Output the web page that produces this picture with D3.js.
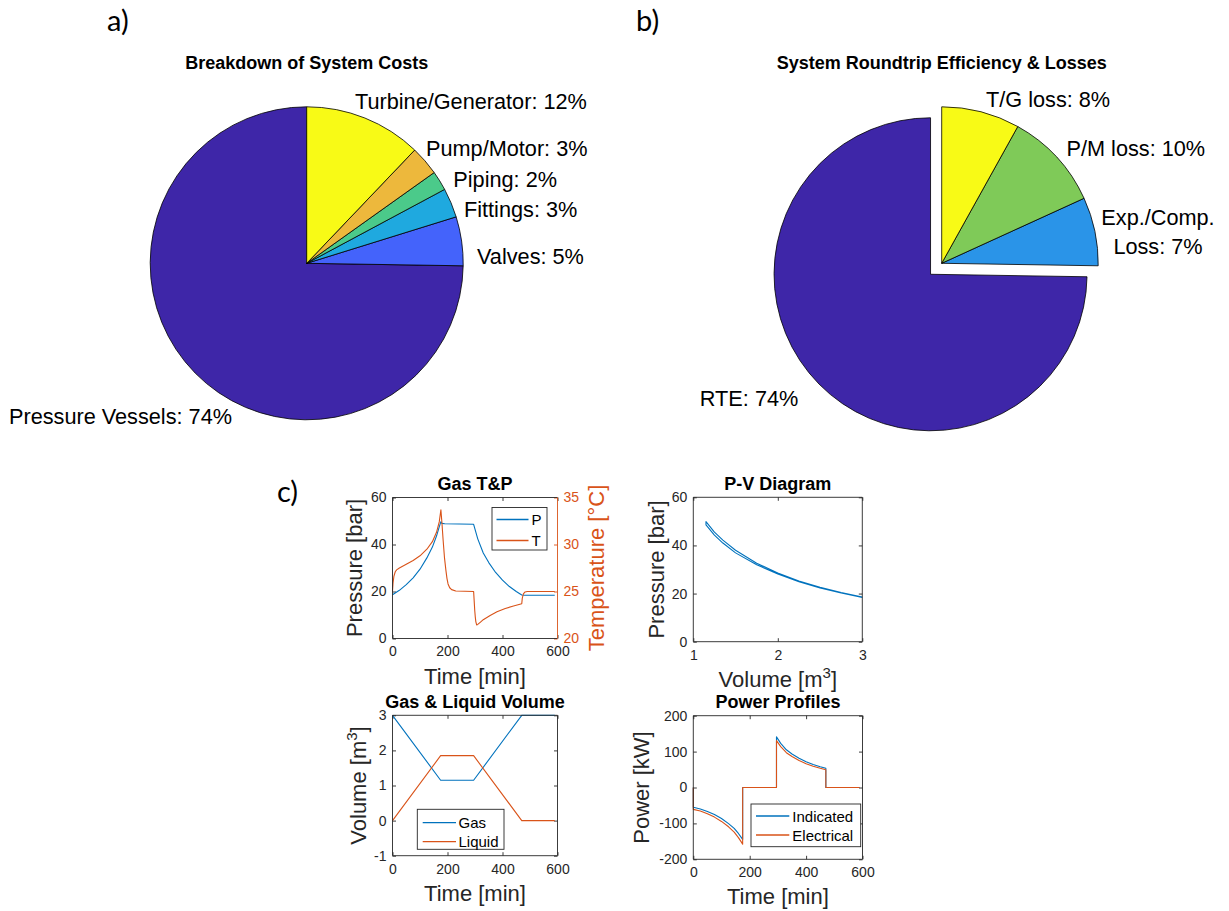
<!DOCTYPE html>
<html>
<head>
<meta charset="utf-8">
<script src="https://cdn.jsdelivr.net/npm/d3@7"></script>
<style>
  body { margin: 0; background: #fff; }
  svg { display: block; font-family: "Liberation Sans", Arial, Helvetica, sans-serif; }
</style>
</head>
<body>
<svg id="fig" width="1229" height="911"></svg>
<script>
// ---------- a) cost breakdown ----------
const costNames  = ["Pressure Vessels", "Valves", "Fittings", "Piping", "Pump/Motor", "Turbine/Generator"];
const costShares = [74, 5, 3, 2, 3, 12];
const costColors = ["#3e26a8", "#4463fb", "#1fa9df", "#4bca8a", "#edb83c", "#f8fa16"];

// ---------- b) round-trip efficiency ----------
const effNames    = ["RTE", "Exp./Comp.\nLoss", "P/M loss", "T/G loss"];
const effShares   = [74, 7, 10, 8];
const effColors   = ["#3e26a8", "#2a94e8", "#7fca58", "#f8fa16"];
const effExploded = [true, false, false, false];

// ---------- c) cycle profiles ----------
// gas pressure [bar] over time [min]
const pressureTime = [0, 25, 50, 75, 100, 125, 145, 160, 170, 176, 180, 190, 295, 310, 330, 350, 375, 400, 425, 450, 470, 480, 590];
const pressure     = [18.6, 20.5, 22.9, 25.8, 29.5, 34.3, 38.9, 43.6, 47.5, 49.7, 49.0, 48.8, 48.6, 42.4, 36.4, 32.3, 28.1, 24.8, 22.1, 20.0, 18.5, 18.4, 18.4];

// gas temperature [°C] over time [min]
const temperatureTime = [0, 2, 5, 10, 15, 25, 50, 75, 100, 125, 145, 160, 170, 176, 180, 184, 189, 194, 198, 202, 208, 215, 230, 295, 297, 299, 301, 303, 306, 310, 320, 330, 355, 380, 410, 440, 470, 472, 476, 482, 490, 590];
const temperature     = [25.0, 25.9, 26.6, 27.1, 27.3, 27.5, 27.9, 28.3, 28.8, 29.5, 30.3, 31.3, 32.4, 33.7, 32.2, 30.5, 28.6, 27.3, 26.4, 25.8, 25.4, 25.2, 25.05, 25.0, 24.0, 23.0, 22.3, 21.8, 21.45, 21.5, 21.75, 22.0, 22.45, 22.85, 23.2, 23.45, 23.7, 24.3, 24.75, 24.95, 25.0, 25.0];

// P-V loop: compression branch then expansion branch
const pvVolume   = [3.00, 2.75, 2.50, 2.25, 2.00, 1.75, 1.50, 1.35, 1.25, 1.15, 1.15, 1.25, 1.35, 1.50, 1.75, 2.00, 2.25, 2.50, 2.75, 3.00];
const pvPressure = [18.6, 20.4, 22.6, 25.2, 28.5, 32.6, 38.0, 42.2, 45.5, 49.9, 48.5, 44.3, 41.0, 36.9, 32.0, 28.1, 24.9, 22.3, 20.2, 18.4];

// gas and liquid volume [m^3] over time [min]
const volumeTime   = [0, 175, 295, 470, 590];
const gasVolume    = [3.0, 1.15, 1.15, 3.0, 3.0];
const liquidVolume = [0.0, 1.85, 1.85, 0.0, 0.0];

// power [kW] over time [min]
const powerTime       = [0, 0, 25, 50, 75, 100, 125, 145, 160, 170, 175, 175, 295, 295, 310, 330, 350, 375, 400, 425, 450, 470, 470, 590];
const indicatedPower  = [0, -55, -60, -67, -75.5, -86.5, -100.5, -114, -128, -139, -145, 0, 0, 141, 123, 105, 93.5, 81.3, 71.8, 64, 57.9, 53.5, 0, 0];
const electricalPower = [0, -61, -65.5, -73, -82.5, -94.5, -109.5, -124.5, -139.5, -151.5, -158, 0, 0, 130.5, 114, 97, 86.5, 75.2, 66.4, 59.2, 53.6, 49.5, 0, 0];

// axis ticks
const timeTicks     = [0, 200, 400, 600];
const pressureTicks = [0, 20, 40, 60];
const tempTicks     = [20, 25, 30, 35];
const volumeXTicks  = [1, 2, 3];
const volumeYTicks  = [-1, 0, 1, 2, 3];
const powerTicks    = [-200, -100, 0, 100, 200];

// ---------------------------------------------------------------
const svg = d3.select("#fig");
const INK = "#262626", BLUE = "#0072BD", ORANGE = "#D95319";
const PANEL_FONT = "Lato, 'Open Sans', sans-serif";

// panel letters
[["a)", 107, 31], ["b)", 636, 31], ["c)", 277, 502]].forEach(([t, x, y]) => {
  svg.append("text").attr("x", x).attr("y", y)
    .style("font-family", PANEL_FONT).style("font-size", "29px").attr("fill", "#000").text(t);
});

// ---------- pies ----------
function drawPie(cx, cy, r, values, names, colors, exploded, labelLayout, title) {
  const g = svg.append("g");
  g.append("text").attr("x", cx).attr("y", 68.5).attr("text-anchor", "middle")
    .style("font-size", "18px").style("font-weight", "bold").attr("fill", "#000").text(title);

  // slices run counter-clockwise from 12 o'clock
  const slices = d3.pie().sort(null).value(d => d).startAngle(0).endAngle(-2 * Math.PI)(values);
  const arc = d3.arc().innerRadius(0).outerRadius(r);
  slices.forEach((s, i) => {
    const mid = (s.startAngle + s.endAngle) / 2;
    const off = exploded && exploded[i] ? 0.1 * r : 0;
    const dx = off * Math.sin(mid), dy = -off * Math.cos(mid);
    g.append("path").attr("d", arc(s))
      .attr("transform", `translate(${cx + dx},${cy + dy})`)
      .attr("fill", colors[i]).attr("stroke", "#000").attr("stroke-width", 0.8)
      .attr("stroke-linejoin", "round");
  });

  names.forEach((name, i) => {
    const [lx, ly, anchor] = labelLayout[i];
    const lines = (name + ": " + values[i] + "%").split("\n");
    const t = g.append("text").attr("text-anchor", anchor)
      .style("font-size", "21.7px").attr("fill", "#000");
    lines.forEach((ln, k) => {
      t.append("tspan").attr("x", cx + lx).attr("y", cy + ly + k * 28.5).text(ln);
    });
  });
}

drawPie(306.7, 263.3, 156.5, costShares, costNames, costColors, null,
  [[-74.7, 160.2, "end"], [170.3, 0.7, "start"], [157.3, -46.3, "start"],
   [146.6, -76.3, "start"], [119.3, -107.8, "start"], [48.3, -154.8, "start"]],
  "Breakdown of System Costs");

drawPie(941.7, 263.3, 156.5, effShares, effNames, effColors, effExploded,
  [[-143.4, 142.2, "end"], [216.3, -38.3, "middle"], [124.8, -107.8, "start"], [44.3, -156.3, "start"]],
  "System Roundtrip Efficiency & Losses");

// ---------- line panels ----------
const fmt = d => String(d);
const TICK = 3.5;

function styleAxis(sel, color) {
  sel.select(".domain").remove();
  sel.selectAll(".tick line").attr("stroke", color).attr("stroke-width", 0.9);
  sel.selectAll(".tick text").attr("fill", color)
    .style("font-family", '"Liberation Sans", Arial, Helvetica, sans-serif')
    .style("font-size", "14px");
}

function makePanel(box, xDomain, yDomain, xTicks, yTicks, opts = {}) {
  const g = svg.append("g");
  const x = d3.scaleLinear().domain(xDomain).range([box.x0, box.x1]);
  const y = d3.scaleLinear().domain(yDomain).range([box.y1, box.y0]);

  g.append("rect").attr("x", box.x0).attr("y", box.y0)
    .attr("width", box.x1 - box.x0).attr("height", box.y1 - box.y0).attr("fill", "#fff");

  g.append("g").attr("transform", `translate(0,${box.y1})`)
    .call(d3.axisBottom(x).tickValues(xTicks).tickSizeInner(-TICK).tickSizeOuter(0).tickPadding(8).tickFormat(fmt))
    .call(s => styleAxis(s, INK));
  g.append("g").attr("transform", `translate(0,${box.y0})`)
    .call(d3.axisTop(x).tickValues(xTicks).tickSizeInner(-TICK).tickSizeOuter(0).tickFormat(""))
    .call(s => styleAxis(s, INK));
  g.append("g").attr("transform", `translate(${box.x0},0)`)
    .call(d3.axisLeft(y).tickValues(yTicks).tickSizeInner(-TICK).tickSizeOuter(0).tickPadding(6).tickFormat(fmt))
    .call(s => styleAxis(s, INK));
  if (!opts.noRightMirror) {
    g.append("g").attr("transform", `translate(${box.x1},0)`)
      .call(d3.axisRight(y).tickValues(yTicks).tickSizeInner(-TICK).tickSizeOuter(0).tickFormat(""))
      .call(s => styleAxis(s, INK));
  }
  return { g, x, y, box };
}

function frame(p, rightColor) {
  const { g, box } = p;
  const seg = (x1, y1, x2, y2, c) => g.append("line").attr("x1", x1).attr("y1", y1).attr("x2", x2).attr("y2", y2)
    .attr("stroke", c).attr("stroke-width", 0.9);
  seg(box.x0, box.y0, box.x1, box.y0, INK);
  seg(box.x0, box.y1, box.x1, box.y1, INK);
  seg(box.x0, box.y0, box.x0, box.y1, INK);
  seg(box.x1, box.y0, box.x1, box.y1, rightColor || INK);
}

function series(p, xs, ys, color, yScale) {
  const ysc = yScale || p.y;
  const pts = xs.map((v, i) => [p.x(v), ysc(ys[i])]);
  p.g.append("path").attr("d", d3.line()(pts)).attr("fill", "none")
    .attr("stroke", color).attr("stroke-width", 1.1).attr("stroke-linejoin", "round");
}

function title(p, text) {
  p.g.append("text").attr("x", (p.box.x0 + p.box.x1) / 2).attr("y", p.box.y0 - 7.5)
    .attr("text-anchor", "middle").style("font-size", "18px").style("font-weight", "bold")
    .attr("fill", "#000").text(text);
}

function xLabel(p, build) {
  const t = p.g.append("text").attr("x", (p.box.x0 + p.box.x1) / 2).attr("y", p.box.y1 + 45)
    .attr("text-anchor", "middle").style("font-size", "22px").attr("fill", INK);
  build(t);
}

function yLabel(p, xPos, color, build) {
  const cy = (p.box.y0 + p.box.y1) / 2;
  const t = p.g.append("text").attr("transform", `translate(${xPos},${cy}) rotate(-90)`)
    .attr("text-anchor", "middle").style("font-size", "22px").attr("fill", color);
  build(t);
}

function legend(p, x0, y0, x1, y1, entries) {
  const g = p.g.append("g");
  g.append("rect").attr("x", x0).attr("y", y0).attr("width", x1 - x0).attr("height", y1 - y0)
    .attr("fill", "#fff").attr("stroke", INK).attr("stroke-width", 0.9);
  entries.forEach(e => {
    g.append("line").attr("x1", e.lx0).attr("x2", e.lx1).attr("y1", e.y).attr("y2", e.y)
      .attr("stroke", e.color).attr("stroke-width", 1.3);
    g.append("text").attr("x", e.tx).attr("y", e.y + 5.5).style("font-size", "15px")
      .attr("fill", "#000").text(e.text);
  });
}

const sup = (t, base, s) => {
  t.append("tspan").text(base);
  t.append("tspan").attr("dy", -9).style("font-size", "15px").text(s);
  t.append("tspan").attr("dy", 9).text("]");
};

// Gas T&P (two y axes)
{
  const box = { x0: 392.5, x1: 557.5, y0: 497.5, y1: 638.5 };
  const p = makePanel(box, [0, 600], [0, 60], timeTicks, pressureTicks, { noRightMirror: true });
  const yT = d3.scaleLinear().domain([20, 35]).range([box.y1, box.y0]);
  p.g.append("g").attr("transform", `translate(${box.x1},0)`)
    .call(d3.axisRight(yT).tickValues(tempTicks).tickSizeInner(-TICK).tickSizeOuter(0).tickPadding(6).tickFormat(fmt))
    .call(s => styleAxis(s, ORANGE));
  series(p, pressureTime, pressure, BLUE);
  series(p, temperatureTime, temperature, ORANGE, yT);
  frame(p, ORANGE);
  title(p, "Gas T&P");
  xLabel(p, t => t.text("Time [min]"));
  yLabel(p, box.x0 - 30.5, INK, t => t.text("Pressure [bar]"));
  yLabel(p, box.x1 + 46.5, ORANGE, t => t.text("Temperature [°C]"));
  legend(p, 492, 507.5, 547, 550, [
    { text: "P", color: BLUE, y: 519.5, lx0: 496.5, lx1: 528.5, tx: 531.5 },
    { text: "T", color: ORANGE, y: 540.5, lx0: 496.5, lx1: 528.5, tx: 531.5 }
  ]);
}

// P-V diagram
{
  const box = { x0: 693.3, x1: 862.3, y0: 497.3, y1: 641.7 };
  const p = makePanel(box, [1, 3], [0, 60], volumeXTicks, pressureTicks);
  series(p, pvVolume, pvPressure, BLUE);
  frame(p);
  title(p, "P-V Diagram");
  xLabel(p, t => sup(t, "Volume [m", "3"));
  yLabel(p, box.x0 - 29.6, INK, t => t.text("Pressure [bar]"));
}

// Gas & liquid volume
{
  const box = { x0: 392.5, x1: 557.5, y0: 715.3, y1: 855.7 };
  const p = makePanel(box, [0, 600], [-1, 3], timeTicks, volumeYTicks);
  series(p, volumeTime, gasVolume, BLUE);
  series(p, volumeTime, liquidVolume, ORANGE);
  frame(p);
  title(p, "Gas & Liquid Volume");
  xLabel(p, t => t.text("Time [min]"));
  yLabel(p, box.x0 - 27, INK, t => sup(t, "Volume [m", "3"));
  legend(p, 417.3, 809.3, 504, 849.3, [
    { text: "Gas", color: BLUE, y: 822.7, lx0: 422.7, lx1: 456, tx: 458.5 },
    { text: "Liquid", color: ORANGE, y: 841.7, lx0: 422.7, lx1: 456, tx: 458.5 }
  ]);
}

// Power profiles
{
  const box = { x0: 693.3, x1: 862.5, y0: 715.7, y1: 859.3 };
  const p = makePanel(box, [0, 600], [-200, 200], timeTicks, powerTicks);
  series(p, powerTime, indicatedPower, BLUE);
  series(p, powerTime, electricalPower, ORANGE);
  frame(p);
  title(p, "Power Profiles");
  xLabel(p, t => t.text("Time [min]"));
  yLabel(p, box.x0 - 44, INK, t => t.text("Power [kW]"));
  legend(p, 751, 804, 860.7, 846.7, [
    { text: "Indicated", color: BLUE, y: 816, lx0: 756, lx1: 789.3, tx: 792.3 },
    { text: "Electrical", color: ORANGE, y: 835, lx0: 756, lx1: 789.3, tx: 792.3 }
  ]);
}
</script>
</body>
</html>
